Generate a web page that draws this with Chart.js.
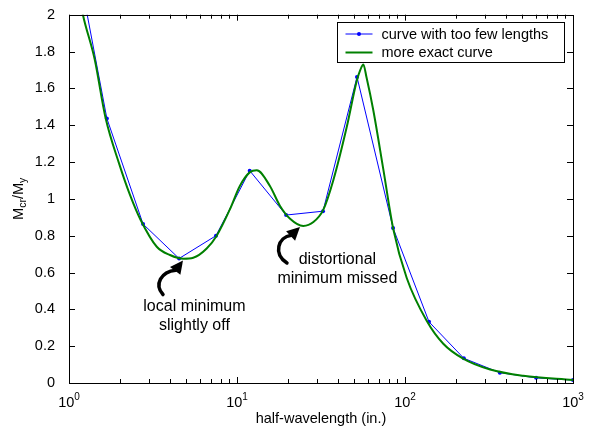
<!DOCTYPE html>
<html>
<head>
<meta charset="utf-8">
<script src="https://cdn.jsdelivr.net/npm/chart.js@4"></script>
<style>
  html, body { margin: 0; padding: 0; background: #fff; }
</style>
</head>
<body>
<canvas id="chart" width="590" height="429"></canvas>
<script>
// values
const roughLengths = [1.03, 1.68, 2.76, 4.52, 7.5, 11.9, 19.6, 32.5, 51.8, 84.9, 139, 224, 367, 603, 1000];
const roughValues  = [2.46, 1.437, 0.863, 0.676, 0.80, 1.153, 0.912, 0.933, 1.662, 0.842, 0.332, 0.134, 0.056, 0.028, 0.016];

const exactLengths = [1.1, 1.21, 1.42, 1.65, 1.99, 2.31, 2.67, 3.33, 3.99, 4.79, 5.49, 6.6, 7.57, 9.09, 10.4, 11.95, 13.1,
  15.7, 18.0, 20.7, 24.8, 28.5, 32.6, 37.4, 45, 51.6, 54.2, 56.5, 59, 64.8, 74.3, 85.2, 102.4, 134.6, 169, 222, 321, 506, 1000];
const exactValues  = [2.2, 2.0, 1.76, 1.44, 1.19, 1.02, 0.885, 0.74, 0.695, 0.675, 0.68, 0.73, 0.80, 0.945, 1.07, 1.145, 1.155,
  1.07, 0.963, 0.892, 0.853, 0.874, 0.94, 1.10, 1.39, 1.64, 1.70, 1.73, 1.66, 1.48, 1.16, 0.835, 0.57, 0.338, 0.213, 0.132, 0.073, 0.039, 0.016];

const seriesLabels = ['curve with too few lengths', 'more exact curve'];
const xDecades = [1, 10, 100, 1000];
const xExponents = ['0', '1', '2', '3'];
const yTickValues = [0, 0.2, 0.4, 0.6, 0.8, 1, 1.2, 1.4, 1.6, 1.8, 2];

const noteLines = [['local minimum', 'slightly off'], ['distortional', 'minimum missed']];
const noteAnchors = [[5.58, 0.413], [39.6, 0.672]];
const arrowTips = [[4.77, 0.665], [23.7, 0.847]];

const FONT = '"Liberation Sans", Arial, Helvetica, sans-serif';

const toPoints = (xs, ys) => xs.map((x, i) => ({x: x, y: ys[i]}));

// arrow shapes, offsets from the tip in pixels
const arrowShapes = [
    {tail: [-20, 34], c1: [-29, 24], c2: [-22, 11], dir: [0.6, -0.8]},
    {tail: [-13, 36], c1: [-27, 27], c2: [-22, 10], dir: [0.72, -0.69]}
];

const framePlugin = {
    id: 'frame',
    afterDatasetsDraw(chart) {
        const {ctx, chartArea: a, scales: {x, y}} = chart;
        ctx.save();
        ctx.strokeStyle = '#000';
        ctx.lineWidth = 1;
        ctx.beginPath();
        // x ticks, major and minor, pointing inward top and bottom
        xDecades.slice(0, -1).forEach(d => {
            for (let k = 1; k <= 9; k++) {
                const px = Math.round(x.getPixelForValue(k * d)) + 0.5;
                const len = k === 1 ? 6 : 4;
                ctx.moveTo(px, a.bottom); ctx.lineTo(px, a.bottom - len);
                ctx.moveTo(px, a.top); ctx.lineTo(px, a.top + len);
            }
        });
        yTickValues.forEach(v => {
            const py = Math.round(y.getPixelForValue(v)) + 0.5;
            ctx.moveTo(a.left, py); ctx.lineTo(a.left + 6, py);
            ctx.moveTo(a.right, py); ctx.lineTo(a.right - 6, py);
        });
        ctx.stroke();
        ctx.strokeRect(Math.round(a.left) + 0.5, Math.round(a.top) + 0.5,
            Math.round(a.right - a.left), Math.round(a.bottom - a.top));

        // legend box
        const bw = 227, bh = 40;
        const bx = Math.round(a.right - 9 - bw) + 0.5, by = Math.round(a.top + 7) + 0.5;
        ctx.fillStyle = '#fff';
        ctx.fillRect(bx, by, bw, bh);
        ctx.strokeRect(bx, by, bw, bh);
        ctx.font = '14.5px ' + FONT;
        ctx.textBaseline = 'middle';
        ctx.textAlign = 'left';
        chart.data.datasets.forEach((ds, i) => {
            const ly = by + 11.5 + i * 18.5;
            ctx.strokeStyle = ds.borderColor;
            ctx.lineWidth = ds.borderWidth;
            ctx.beginPath();
            ctx.moveTo(bx + 8, ly); ctx.lineTo(bx + 35, ly);
            ctx.stroke();
            if (ds.pointRadius > 0) {
                ctx.fillStyle = ds.borderColor;
                ctx.beginPath();
                ctx.arc(bx + 21.5, ly, 2, 0, Math.PI * 2);
                ctx.fill();
            }
            ctx.fillStyle = '#000';
            ctx.fillText(ds.label, bx + 44, ly + 0.5);
        });

        // notes with curved arrows
        ctx.fillStyle = '#000';
        ctx.strokeStyle = '#000';
        ctx.textAlign = 'center';
        ctx.font = '16px ' + FONT;
        noteLines.forEach((lines, i) => {
            const tx = x.getPixelForValue(noteAnchors[i][0]);
            const ty = y.getPixelForValue(noteAnchors[i][1]);
            lines.forEach((t, j) => ctx.fillText(t, tx, ty + j * 19));

            const px = x.getPixelForValue(arrowTips[i][0]);
            const py = y.getPixelForValue(arrowTips[i][1]);
            const s = arrowShapes[i];
            const hl = 13, hw = 6.5;
            const bxh = px - s.dir[0] * hl, byh = py - s.dir[1] * hl;
            ctx.lineWidth = 3.5;
            ctx.lineCap = 'round';
            ctx.beginPath();
            ctx.moveTo(px + s.tail[0], py + s.tail[1]);
            ctx.bezierCurveTo(px + s.c1[0], py + s.c1[1], px + s.c2[0], py + s.c2[1], bxh + s.dir[0], byh + s.dir[1]);
            ctx.stroke();
            ctx.beginPath();
            ctx.moveTo(px, py);
            ctx.lineTo(bxh - s.dir[1] * hw, byh + s.dir[0] * hw);
            ctx.lineTo(bxh + s.dir[1] * hw, byh - s.dir[0] * hw);
            ctx.closePath();
            ctx.fill();
        });
        ctx.restore();
    },
    afterDraw(chart) {
        const {ctx, chartArea: a, scales: {x}} = chart;
        ctx.save();
        ctx.fillStyle = '#000';
        ctx.textBaseline = 'alphabetic';
        ctx.textAlign = 'left';
        // decade labels 10^n
        xDecades.forEach((d, i) => {
            const px = x.getPixelForValue(d);
            ctx.font = '14.5px ' + FONT;
            const w1 = ctx.measureText('10').width;
            ctx.font = '10px ' + FONT;
            const w2 = ctx.measureText(xExponents[i]).width;
            const left = px - (w1 + w2) / 2;
            ctx.font = '14.5px ' + FONT;
            ctx.fillText('10', left, a.bottom + 24);
            ctx.font = '10px ' + FONT;
            ctx.fillText(xExponents[i], left + w1, a.bottom + 17);
        });
        // y title  M_cr / M_y
        const parts = [['M', 14.5, 0], ['cr', 10.5, 3], ['/M', 14.5, 0], ['y', 10.5, 3]];
        let total = 0;
        parts.forEach(p => { ctx.font = p[1] + 'px ' + FONT; p.push(ctx.measureText(p[0]).width); total += p[3]; });
        ctx.translate(23, (a.top + a.bottom) / 2);
        ctx.rotate(-Math.PI / 2);
        let cx = -total / 2;
        parts.forEach(p => {
            ctx.font = p[1] + 'px ' + FONT;
            ctx.fillText(p[0], cx, p[2]);
            cx += p[3];
        });
        ctx.restore();
    }
};

new Chart(document.getElementById('chart'), {
    type: 'line',
    data: {
        datasets: [
            {
                label: seriesLabels[0],
                data: toPoints(roughLengths, roughValues),
                borderColor: '#0000ff',
                backgroundColor: '#0000ff',
                borderWidth: 1,
                pointRadius: 2,
                pointBorderWidth: 0,
                pointBackgroundColor: '#0000ff',
                tension: 0,
                order: 2
            },
            {
                label: seriesLabels[1],
                data: toPoints(exactLengths, exactValues),
                borderColor: '#008000',
                borderWidth: 2,
                pointRadius: 0,
                cubicInterpolationMode: 'monotone',
                order: 1
            }
        ]
    },
    options: {
        responsive: false,
        animation: false,
        devicePixelRatio: 1,
        layout: {padding: {top: 10, right: 17, left: 0, bottom: 0}},
        plugins: {legend: {display: false}, tooltip: {enabled: false}},
        scales: {
            x: {
                type: 'logarithmic',
                min: 1,
                max: 1000,
                grid: {display: false},
                border: {display: false},
                ticks: {display: false},
                title: {
                    display: true,
                    text: 'half-wavelength (in.)',
                    color: '#000',
                    font: {family: FONT, size: 14.5},
                    padding: {top: 0, bottom: 1}
                },
                afterFit: s => { s.height = 46; }
            },
            y: {
                min: 0,
                max: 2,
                grid: {display: false},
                border: {display: false},
                afterBuildTicks: s => { s.ticks = yTickValues.map(v => ({value: v})); },
                ticks: {
                    color: '#000',
                    font: {family: FONT, size: 14.5},
                    padding: 6,
                    callback: v => String(+v.toFixed(1))
                },
                afterFit: s => { s.width = 69; }
            }
        }
    },
    plugins: [framePlugin]
});
</script>
</body>
</html>
